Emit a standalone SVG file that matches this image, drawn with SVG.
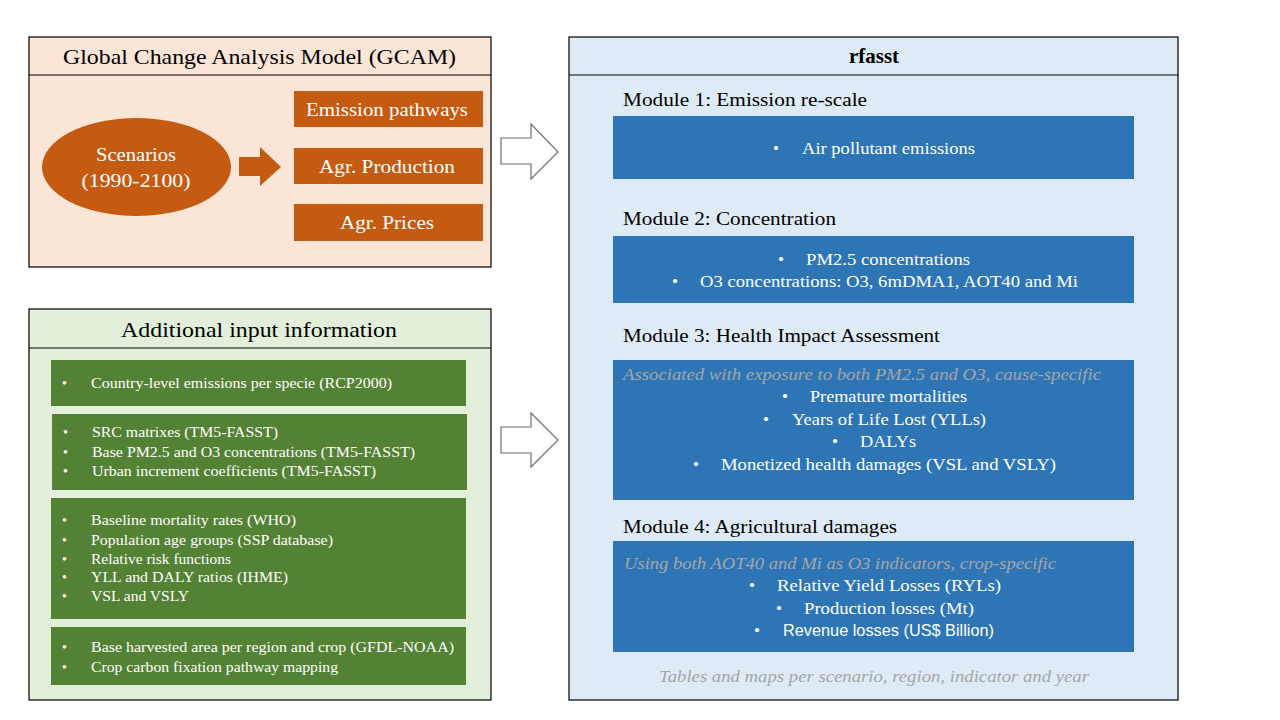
<svg xmlns="http://www.w3.org/2000/svg" width="1280" height="720" viewBox="0 0 1280 720">
<style>
.frame{stroke:#000;stroke-width:1.2}
.t{font-family:"Liberation Serif","Times New Roman",serif}
.title{font-size:22px;fill:#000;text-anchor:middle}
.ow{font-size:19px;fill:#fff;text-anchor:middle}
.g{font-size:14px;fill:#fff}
.b{font-size:17px;fill:#fff}
.mod{font-size:19px;fill:#000}
.it{font-size:17px;fill:#a6a6a6;font-style:italic}
.sans{font-family:"Liberation Sans",Arial,sans-serif}
.orange{fill:#c55a11}
.green{fill:#548235}
.blue{fill:#2e75b6}
.arrow{fill:#fff;stroke:#6f6f6f;stroke-width:1.2}
</style>
<rect width="1280" height="720" fill="#fff"/>

<g id="gcam">
<rect x="29" y="37" width="462" height="230" fill="#fbe5d6" class="frame"/>
<line x1="29" y1="75" x2="491" y2="75" class="frame"/>
<text x="259.5" y="64" class="t title" textLength="393" lengthAdjust="spacingAndGlyphs">Global Change Analysis Model (GCAM)</text>
</g>
<g id="scenarios">
<ellipse cx="136.5" cy="167" rx="94.5" ry="49" class="orange"/>
<text x="136" y="161" class="t ow" textLength="80" lengthAdjust="spacingAndGlyphs">Scenarios</text>
<text x="136" y="187" class="t ow" textLength="109" lengthAdjust="spacingAndGlyphs">(1990-2100)</text>
</g>
<g id="emission-pathways">
<rect x="294" y="91" width="189" height="36" class="orange"/>
<text x="387" y="116" class="t ow" textLength="162" lengthAdjust="spacingAndGlyphs">Emission pathways</text>
</g>
<g id="agr-production">
<rect x="294" y="148" width="189" height="36" class="orange"/>
<text x="387" y="173" class="t ow" textLength="136" lengthAdjust="spacingAndGlyphs">Agr. Production</text>
</g>
<g id="agr-prices">
<rect x="294" y="204" width="189" height="37" class="orange"/>
<text x="387" y="229" class="t ow" textLength="94" lengthAdjust="spacingAndGlyphs">Agr. Prices</text>
</g>

<g id="additional">
<rect x="29" y="309" width="462" height="391" fill="#e2efda" class="frame"/>
<line x1="29" y1="348" x2="491" y2="348" class="frame"/>
<text x="259" y="337" class="t title" textLength="276" lengthAdjust="spacingAndGlyphs">Additional input information</text>
</g>
<g id="input-1">
<rect x="51" y="360" width="415" height="46" class="green"/>
<text x="62" y="388" class="t g">•</text>
<text x="91" y="388" class="t g" textLength="301" lengthAdjust="spacingAndGlyphs">Country-level emissions per specie (RCP2000)</text>
</g>
<g id="input-2">
<rect x="52" y="414" width="415" height="76" class="green"/>
<text x="63" y="437" class="t g">•</text>
<text x="92" y="437" class="t g" textLength="186" lengthAdjust="spacingAndGlyphs">SRC matrixes (TM5-FASST)</text>
<text x="63" y="457" class="t g">•</text>
<text x="92" y="457" class="t g" textLength="323" lengthAdjust="spacingAndGlyphs">Base PM2.5 and O3 concentrations (TM5-FASST)</text>
<text x="63" y="476" class="t g">•</text>
<text x="92" y="476" class="t g" textLength="284" lengthAdjust="spacingAndGlyphs">Urban increment coefficients (TM5-FASST)</text>
</g>
<g id="input-3">
<rect x="51" y="498" width="415" height="121" class="green"/>
<text x="62" y="525" class="t g">•</text>
<text x="91" y="525" class="t g" textLength="205" lengthAdjust="spacingAndGlyphs">Baseline mortality rates (WHO)</text>
<text x="62" y="545" class="t g">•</text>
<text x="91" y="545" class="t g" textLength="242" lengthAdjust="spacingAndGlyphs">Population age groups (SSP database)</text>
<text x="62" y="564" class="t g">•</text>
<text x="91" y="564" class="t g" textLength="140" lengthAdjust="spacingAndGlyphs">Relative risk functions</text>
<text x="62" y="582" class="t g">•</text>
<text x="91" y="582" class="t g" textLength="197" lengthAdjust="spacingAndGlyphs">YLL and DALY ratios (IHME)</text>
<text x="62" y="601" class="t g">•</text>
<text x="91" y="601" class="t g" textLength="98" lengthAdjust="spacingAndGlyphs">VSL and VSLY</text>
</g>
<g id="input-4">
<rect x="51" y="627" width="415" height="58" class="green"/>
<text x="62" y="652" class="t g">•</text>
<text x="91" y="652" class="t g" textLength="363" lengthAdjust="spacingAndGlyphs">Base harvested area per region and crop (GFDL-NOAA)</text>
<text x="62" y="672" class="t g">•</text>
<text x="91" y="672" class="t g" textLength="247" lengthAdjust="spacingAndGlyphs">Crop carbon fixation pathway mapping</text>
</g>

<g id="rfasst">
<rect x="569" y="37" width="609" height="663" fill="#deebf7" class="frame"/>
<line x1="569" y1="75" x2="1178" y2="75" class="frame"/>
<text x="874" y="63" class="t" font-size="21" font-weight="bold" text-anchor="middle">rfasst</text>
</g>
<g id="module-1">
<text x="623" y="106" class="t mod" textLength="244" lengthAdjust="spacingAndGlyphs">Module 1: Emission re-scale</text>
<rect x="613" y="116" width="521" height="63" class="blue"/>
<text x="773" y="154" class="t b">•</text>
<text x="802" y="154" class="t b" textLength="173" lengthAdjust="spacingAndGlyphs">Air pollutant emissions</text>
</g>
<g id="module-2">
<text x="623" y="225" class="t mod" textLength="213" lengthAdjust="spacingAndGlyphs">Module 2: Concentration</text>
<rect x="613" y="236" width="521" height="67" class="blue"/>
<text x="778" y="265" class="t b">•</text>
<text x="806" y="265" class="t b" textLength="164" lengthAdjust="spacingAndGlyphs">PM2.5 concentrations</text>
<text x="672" y="287" class="t b">•</text>
<text x="700" y="287" class="t b" textLength="378" lengthAdjust="spacingAndGlyphs">O3 concentrations: O3, 6mDMA1, AOT40 and Mi</text>
</g>
<g id="module-3">
<text x="623" y="342" class="t mod" textLength="317" lengthAdjust="spacingAndGlyphs">Module 3: Health Impact Assessment</text>
<rect x="613" y="360" width="521" height="140" class="blue"/>
<text x="623" y="380" class="t it" textLength="478" lengthAdjust="spacingAndGlyphs">Associated with exposure to both PM2.5 and O3, cause-specific</text>
<text x="782" y="402" class="t b">•</text>
<text x="810" y="402" class="t b" textLength="157" lengthAdjust="spacingAndGlyphs">Premature mortalities</text>
<text x="763" y="425" class="t b">•</text>
<text x="792" y="425" class="t b" textLength="194" lengthAdjust="spacingAndGlyphs">Years of Life Lost (YLLs)</text>
<text x="832" y="447" class="t b">•</text>
<text x="860" y="447" class="t b" textLength="56" lengthAdjust="spacingAndGlyphs">DALYs</text>
<text x="693" y="470" class="t b">•</text>
<text x="721" y="470" class="t b" textLength="335" lengthAdjust="spacingAndGlyphs">Monetized health damages (VSL and VSLY)</text>
</g>
<g id="module-4">
<text x="623" y="533" class="t mod" textLength="274" lengthAdjust="spacingAndGlyphs">Module 4: Agricultural damages</text>
<rect x="613" y="541" width="521" height="111" class="blue"/>
<text x="624" y="569" class="t it" textLength="432" lengthAdjust="spacingAndGlyphs">Using both AOT40 and Mi as O3 indicators, crop-specific</text>
<text x="749" y="591" class="t b">•</text>
<text x="777" y="591" class="t b" textLength="224" lengthAdjust="spacingAndGlyphs">Relative Yield Losses (RYLs)</text>
<text x="776" y="614" class="t b">•</text>
<text x="804" y="614" class="t b" textLength="170" lengthAdjust="spacingAndGlyphs">Production losses (Mt)</text>
<text x="754" y="636" class="t b">•</text>
<text x="783" y="636" class="sans b" font-size="16" textLength="211" lengthAdjust="spacingAndGlyphs">Revenue losses (US$ Billion)</text>
</g>
<g id="outputs">
<text x="659" y="682" class="t it" textLength="430" lengthAdjust="spacingAndGlyphs">Tables and maps per scenario, region, indicator and year</text>
</g>

<g id="connectors">
<polygon points="239,157 260,157 260,147 281,167 260,186 260,176 239,176" class="orange"/>
<polygon points="501,138 531,138 531,124 558,152 531,179 531,164 501,164" class="arrow"/>
<polygon points="501,427 531,427 531,413 558,440 531,467 531,453 501,453" class="arrow"/>
</g>
</svg>
